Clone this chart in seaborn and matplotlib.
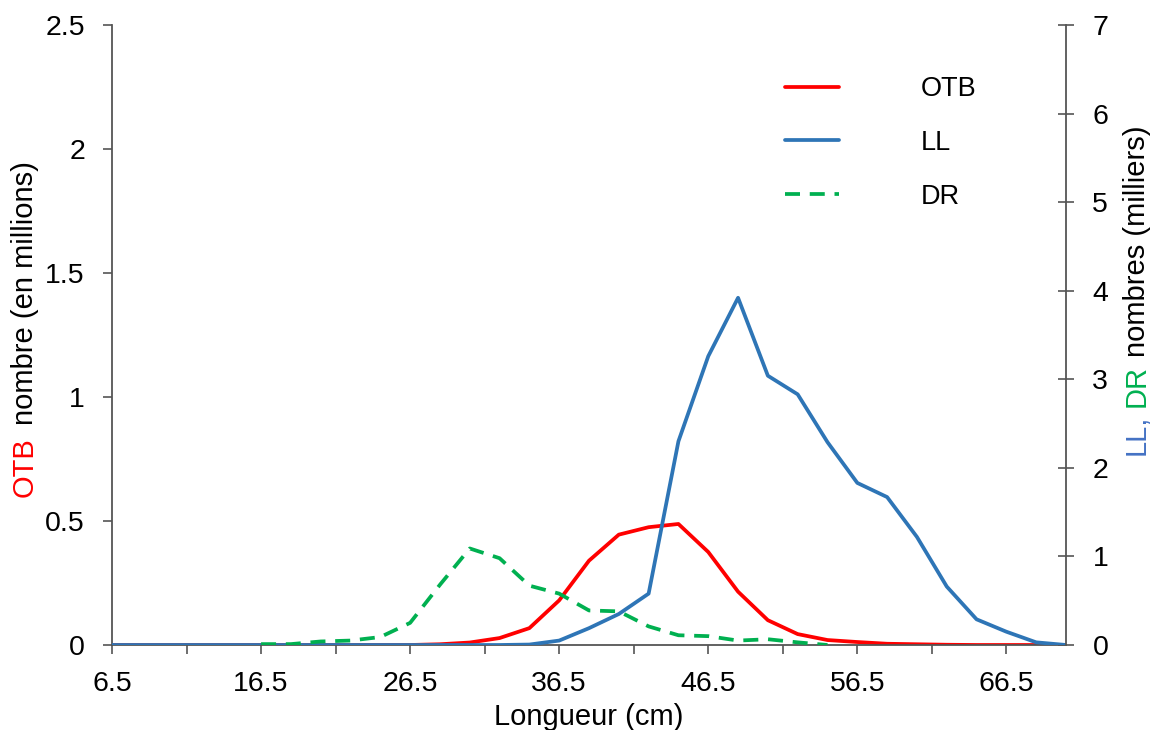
import numpy as np
import matplotlib
matplotlib.use("Agg")
import matplotlib.pyplot as plt
from matplotlib.ticker import FuncFormatter
import seaborn as sns

# Length classes (cm)
longueur = [6.5, 8.5, 10.5, 12.5, 14.5, 16.5, 18.5, 20.5, 22.5, 24.5, 26.5,
            28.5, 30.5, 32.5, 34.5, 36.5, 38.5, 40.5, 42.5, 44.5, 46.5, 48.5,
            50.5, 52.5, 54.5, 56.5, 58.5, 60.5, 62.5, 64.5, 66.5, 68.5, 70.5]

# OTB catches, millions of fish (left axis)
otb = [0, 0, 0, 0, 0, 0, 0, 0, 0, 0, 0,
       0.003, 0.01, 0.028, 0.068, 0.18, 0.34, 0.445, 0.475, 0.488, 0.375, 0.215,
       0.10, 0.044, 0.02, 0.012, 0.005, 0.003, 0.001, 0, 0, 0, 0]

# LL catches, thousands of fish (right axis)
ll = [0, 0, 0, 0, 0, 0, 0, 0, 0, 0, 0,
      0, 0, 0, 0.005, 0.05, 0.19, 0.35, 0.58, 2.3, 3.26, 3.92,
      3.04, 2.83, 2.29, 1.83, 1.67, 1.22, 0.66, 0.29, 0.15, 0.03, 0]

# DR catches, thousands of fish (right axis)
nan = np.nan
dr = [nan, nan, nan, nan, nan, 0.01, 0.01, 0.04, 0.05, 0.09, 0.25,
      0.68, 1.09, 0.98, 0.67, 0.58, 0.39, 0.38, 0.21, 0.11, 0.10, 0.05,
      0.065, 0.03, 0.0, nan, nan, nan, nan, nan, nan, nan, nan]

major_ticks = [6.5, 16.5, 26.5, 36.5, 46.5, 56.5, 66.5]
minor_ticks = [11.5, 21.5, 31.5, 41.5, 51.5, 61.5]
left_ticks = [0, 0.5, 1, 1.5, 2, 2.5]
right_ticks = [0, 1, 2, 3, 4, 5, 6, 7]

RED = "#FF0000"
BLUE = "#2E75B6"
GREEN = "#00B050"
LBLUE = "#4472C4"
AXC = "#555555"

sns.set_style("white")
plt.rcParams["font.family"] = ["Liberation Sans", "DejaVu Sans"]
plt.rcParams["text.color"] = "black"
plt.rcParams["axes.labelcolor"] = "black"
plt.rcParams["xtick.labelcolor"] = "black"
plt.rcParams["ytick.labelcolor"] = "black"

fig = plt.figure(figsize=(11.53, 7.30), dpi=100)
ax = fig.add_axes([112 / 1153, 85 / 730, 954 / 1153, 620 / 730])
ax2 = ax.twinx()

lw = 2.7
sns.lineplot(x=longueur, y=otb, ax=ax, color=RED, linewidth=lw, label="OTB")
sns.lineplot(x=longueur, y=ll, ax=ax2, color=BLUE, linewidth=lw, label="LL")
sns.lineplot(x=longueur, y=dr, ax=ax2, color=GREEN, linewidth=lw,
             linestyle=(0, (4.0, 2.6)), label="DR")

ax.set_xlim(6.5, 70.5)
ax.set_ylim(0, 2.5)
ax2.set_ylim(0, 7)

fmt = FuncFormatter(lambda v, p: f"{v:g}")
ax.set_xticks(major_ticks)
ax.set_xticks(minor_ticks, minor=True)
ax.xaxis.set_major_formatter(fmt)
ax.set_yticks(left_ticks)
ax.yaxis.set_major_formatter(fmt)
ax2.set_yticks(right_ticks)
ax2.yaxis.set_major_formatter(fmt)

tick_fs = 20.5
ax.tick_params(axis="x", which="both", direction="out", length=6.5, width=1.2,
               color=AXC, labelcolor="black", pad=12.5, labelsize=tick_fs,
               bottom=True)
ax.tick_params(axis="y", which="major", direction="out", length=6.5, width=1.2,
               color=AXC, labelcolor="black", pad=13, labelsize=tick_fs,
               left=True)
ax2.tick_params(axis="y", which="major", direction="inout", length=12, width=1.2,
                color=AXC, labelcolor="black", pad=13, labelsize=tick_fs,
                right=True)

for s in ["top", "right"]:
    ax.spines[s].set_visible(False)
for s in ["left", "bottom"]:
    ax.spines[s].set_color(AXC)
    ax.spines[s].set_linewidth(1.3)
for s in ["top", "left", "bottom"]:
    ax2.spines[s].set_visible(False)
ax2.spines["right"].set_color(AXC)
ax2.spines["right"].set_linewidth(1.3)

ax.set_xlabel("Longueur (cm)", fontsize=21, labelpad=4, color="black")
ax.set_ylabel("")
ax2.set_ylabel("")

# Single legend gathering the series of both axes
h1, l1 = ax.get_legend_handles_labels()
h2, l2 = ax2.get_legend_handles_labels()
for a in (ax, ax2):
    if a.get_legend() is not None:
        a.get_legend().remove()
leg = ax2.legend(h1 + h2, l1 + l2, loc="upper left",
                 bbox_to_anchor=((785 - 112) / 954, (645 - 76) / 620),
                 frameon=False, fontsize=19.5, borderpad=0, borderaxespad=0,
                 handlelength=2.0, handletextpad=3.0, labelspacing=1.03)
for t in leg.get_texts():
    t.set_color("black")


def coloured_ylabel(x, y, parts, gaps, size=21):
    """Vertical axis title made of differently coloured pieces, read bottom-up."""
    txt, col = parts[0]
    prev = fig.text(x, y, txt, color=col, rotation=90, ha="center",
                    va="bottom", fontsize=size)
    for (txt, col), gap in zip(parts[1:], gaps):
        prev = ax.annotate(txt, xy=(0.5, 1), xycoords=prev,
                           xytext=(0, gap), textcoords="offset points",
                           rotation=90, ha="center", va="bottom",
                           color=col, fontsize=size, annotation_clip=False)


coloured_ylabel(25 / 1153, (730 - 497) / 730,
                [("OTB", RED), ("nombre (en millions)", "black")], [9])
coloured_ylabel(1137 / 1153, (730 - 455) / 730,
                [("LL,", LBLUE), ("DR", GREEN), ("nombres (milliers)", "black")],
                [5.5, 5.5])

fig.savefig("out.png", dpi=100)
